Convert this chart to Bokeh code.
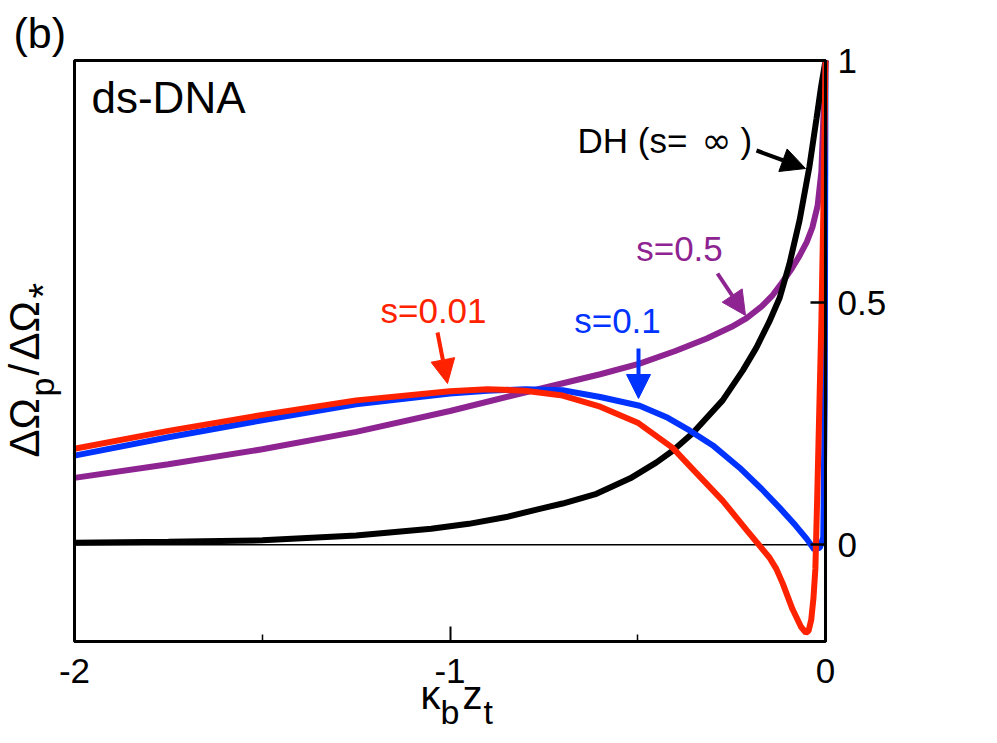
import numpy as np
from bokeh.plotting import figure
from bokeh.models import Label, Arrow, NormalHead, BoxAnnotation, FixedTicker, Range1d
from bokeh.embed import file_html
from bokeh.resources import INLINE

# ---------------- data ----------------
dh_x = [-2.0, -1.75, -1.5, -1.25, -1.05, -0.95, -0.85, -0.761, -0.7, -0.61, -0.52, -0.45,
        -0.407, -0.354, -0.274, -0.22, -0.184, -0.15, -0.122, -0.096, -0.069, -0.043, -0.024,
        -0.012, 0.0]
dh_y = [0.004, 0.006, 0.009, 0.019, 0.033, 0.043, 0.057, 0.074, 0.085, 0.105, 0.137, 0.17,
        0.194, 0.23, 0.298, 0.36, 0.407, 0.46, 0.51, 0.58, 0.67, 0.78, 0.88,
        0.945, 1.0]

s01_x = [-2.0, -1.75, -1.5, -1.25, -1.0, -0.9, -0.8, -0.7, -0.6, -0.495, -0.42, -0.362, -0.3,
         -0.229, -0.17, -0.122, -0.08, -0.05, -0.03, -0.015, -0.006, -0.002, 0.0]
s01_y = [0.184, 0.222, 0.257, 0.29, 0.312, 0.318, 0.321, 0.319, 0.305, 0.287, 0.262, 0.236, 0.205,
         0.159, 0.115, 0.076, 0.04, 0.012, -0.01, -0.006, 0.015, 0.3, 1.0]

s001_x = [-2.0, -1.75, -1.5, -1.25, -1.0, -0.9, -0.8, -0.7, -0.6, -0.5, -0.407, -0.35, -0.274,
          -0.21, -0.149, -0.131, -0.114, -0.088, -0.065, -0.052, -0.045, -0.038, -0.032, -0.027,
          -0.022, -0.011, -0.005, 0.0]
s001_y = [0.198, 0.235, 0.268, 0.298, 0.317, 0.321, 0.318, 0.308, 0.285, 0.252, 0.2, 0.153, 0.091,
          0.03, -0.027, -0.05, -0.08, -0.133, -0.17, -0.182, -0.178, -0.155, -0.11, -0.05,
          0.1, 0.46, 0.72, 1.0]

s05_x = [-2.0, -1.75, -1.5, -1.25, -1.0, -0.76, -0.6, -0.495, -0.4, -0.316, -0.25, -0.21,
         -0.17, -0.141, -0.117, -0.09, -0.069, -0.05, -0.035, -0.021, -0.011, 0.0]
s05_y = [0.138, 0.166, 0.197, 0.233, 0.276, 0.322, 0.352, 0.374, 0.40, 0.426, 0.45, 0.468,
         0.492, 0.515, 0.54, 0.57, 0.597, 0.625, 0.655, 0.70, 0.77, 1.0]

x_ticks = [-2, -1, 0]
x_minor_ticks = [-1.5, -0.5]
x_tick_labels = ["-2", "-1", "0"]
y_ticks = [0, 0.5, 1]
y_tick_labels = ["0", "0.5", "1"]

# axis limits of the plotting box
X_MIN, X_MAX = -2.0, 0.0
Y_MIN, Y_MAX = -0.2, 1.0

# ---------------- layout (pixel placement of the box on the canvas) ----------------
W, H = 989, 735
BOX_L, BOX_R, BOX_T, BOX_B = 74, 825, 60, 641
ppx = (BOX_R - BOX_L) / (X_MAX - X_MIN)
ppy = (BOX_B - BOX_T) / (Y_MAX - Y_MIN)
view_x = (X_MIN - BOX_L / ppx, X_MAX + (W - BOX_R) / ppx)
view_y = (Y_MIN - (H - BOX_B) / ppy, Y_MAX + BOX_T / ppy)
BASE_SHIFT = 0.48  # em: correction so that the requested point is the glyph baseline


def dx(px):
    return X_MIN + (px - BOX_L) / ppx


def dy(py):
    return Y_MIN + (BOX_B - py) / ppy


RED = "#FF2200"
BLUE = "#0033FF"
PURPLE = "#8E2491"
BLACK = "#000000"
FONT = "Liberation Sans"


def text(t, px, py, fs, color="black", align="left", font=FONT, rotated=False):
    if rotated:
        x, y = dx(px - BASE_SHIFT * fs), dy(py)
        ang = np.pi / 2
    else:
        x, y = dx(px), dy(py - BASE_SHIFT * fs)
        ang = 0.0
    p.add_layout(Label(x=x, y=y, text=t, text_color=color, text_font=font,
                       text_font_size=f"{fs}px", text_align=align,
                       text_baseline="alphabetic", angle=ang))


# curve annotations: text, pixel anchor (baseline), colour, alignment
ann = [("s=0.01", 433, 327, RED, "center"),
       ("s=0.1", 617, 337, BLUE, "center"),
       ("s=0.5", 679, 265, PURPLE, "center")]
# arrows (pixel start -> pixel end)
arrows = [(437, 332, 447, 383, RED),
          (638, 348, 638, 398, BLUE),
          (717, 273, 745, 315, PURPLE),
          (756, 150, 805, 168, BLACK)]

# ---------------- figure ----------------
p = figure(width=W, height=H, x_range=Range1d(*view_x), y_range=Range1d(*view_y),
           output_backend="svg", toolbar_location=None, y_axis_location="right",
           min_border=0)
p.title.visible = False
p.grid.visible = False
p.outline_line_color = None
p.background_fill_color = "white"
p.border_fill_color = "white"

xa = p.xaxis[0]
xa.fixed_location = Y_MIN
xa.bounds = (X_MIN, X_MAX)
xa.ticker = FixedTicker(ticks=x_ticks, minor_ticks=x_minor_ticks)
xa.major_label_overrides = {t: l for t, l in zip(x_ticks, x_tick_labels)}
xa.major_tick_in = 15
xa.major_tick_out = 0
xa.minor_tick_in = 7
xa.minor_tick_out = 0
xa.major_tick_line_width = 2
xa.minor_tick_line_width = 1.5
xa.axis_line_width = 3
xa.major_label_text_font = FONT
xa.major_label_text_font_size = "35px"
xa.major_label_text_color = "black"
xa.major_label_standoff = 17

ya = p.yaxis[0]
ya.fixed_location = X_MAX
ya.bounds = (Y_MIN, Y_MAX)
ya.ticker = FixedTicker(ticks=y_ticks, minor_ticks=[])
ya.major_label_overrides = {t: l for t, l in zip(y_ticks, y_tick_labels)}
ya.major_tick_in = 15
ya.major_tick_out = 0
ya.minor_tick_in = 0
ya.minor_tick_out = 0
ya.major_tick_line_width = 2.5
ya.axis_line_width = 3
ya.major_label_text_font = FONT
ya.major_label_text_font_size = "35px"
ya.major_label_text_color = "black"
ya.major_label_standoff = 12

# zero line across the box
p.line([X_MIN, X_MAX], [0, 0], line_color="black", line_width=1.5)

# curves
LW = 6
p.line(s05_x, s05_y, line_color=PURPLE, line_width=LW)
p.line(dh_x, dh_y, line_color=BLACK, line_width=LW)
p.line(s01_x, s01_y, line_color=BLUE, line_width=LW)
p.line(s001_x, s001_y, line_color=RED, line_width=LW)

# box frame
p.add_layout(BoxAnnotation(left=X_MIN, right=X_MAX, bottom=Y_MIN, top=Y_MAX,
                           fill_color=None, fill_alpha=0, line_color="black",
                           line_width=3, line_alpha=1.0))

# annotations
for t, px, py, c, al in ann:
    text(t, px, py, 35, color=c, align=al)
text("DH (s=", 577, 157, 35)
text("\u221e", 701, 157, 36, font="DejaVu Sans")
text(")", 740, 157, 35)
for px0, py0, px1, py1, c in arrows:
    p.add_layout(Arrow(end=NormalHead(size=24, fill_color=c, line_color=c, line_width=1),
                       x_start=dx(px0), y_start=dy(py0), x_end=dx(px1), y_end=dy(py1),
                       line_color=c, line_width=4))

# panel letter and sample label
text("(b)", 13, 53, 43)
text("ds-DNA", 91, 118, 44)

# x-axis label: kappa_b z_t
text("\u03ba", 420, 714, 40)
text("b", 440, 728, 34)
text("z", 462, 714, 40)
text("t", 483, 728, 34)

# y-axis label: DeltaOmega_p / DeltaOmega_*
text("\u0394\u03a9", 44, 457, 42, rotated=True)
text("p", 58, 396, 34, rotated=True)
text("/", 44, 375, 42, rotated=True)
text("\u0394\u03a9", 44, 360, 42, rotated=True)
text("*", 62, 298, 40, rotated=True)

open("out.html", "w").write(file_html(p, INLINE))
